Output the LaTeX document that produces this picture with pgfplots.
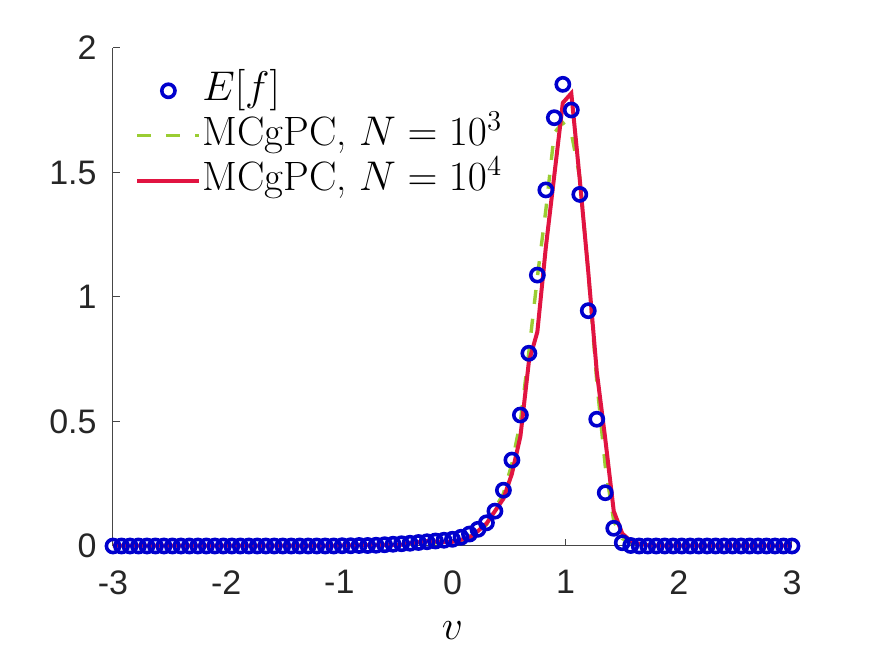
\documentclass[border=0pt]{standalone}
\usepackage{fontspec}
\usepackage{pgfplots}
\pgfplotsset{compat=1.18}
\usepackage{pgfplotstable}

\newfontfamily\tickfont{Liberation Sans}
\definecolor{efblue}{RGB}{0,0,205}
\definecolor{mcthree}{RGB}{154,205,50}
\definecolor{mcfour}{RGB}{225,20,65}
\definecolor{axisgray}{RGB}{70,70,70}

% velocity grid v_k = -3 + 0.075 k, k = 0..80
\pgfplotstableread{
x      Ef     N3     N4
-3.000 0      0.001  0.001
-2.925 0      0.001  0.001
-2.850 0      0.001  0.001
-2.775 0      0.001  0.001
-2.700 0      0.001  0.001
-2.625 0      0.001  0.001
-2.550 0      0.001  0.001
-2.475 0      0.001  0.001
-2.400 0      0.001  0.001
-2.325 0      0.001  0.001
-2.250 0      0.001  0.001
-2.175 0      0.001  0.001
-2.100 0      0.001  0.001
-2.025 0      0.001  0.001
-1.950 0      0.001  0.001
-1.875 0      0.001  0.001
-1.800 0      0.001  0.001
-1.725 0      0.001  0.001
-1.650 0      0.001  0.001
-1.575 0      0.001  0.001
-1.500 0      0.001  0.001
-1.425 0      0.001  0.001
-1.350 0      0.001  0.001
-1.275 0      0.001  0.001
-1.200 0      0.001  0.001
-1.125 0      0.001  0.001
-1.050 0      0.001  0.001
-0.975 0.001  0.001  0.002
-0.900 0.001  0.002  0.002
-0.825 0.002  0.002  0.003
-0.750 0.002  0.003  0.003
-0.675 0.003  0.004  0.004
-0.600 0.005  0.004  0.005
-0.525 0.007  0.006  0.004
-0.450 0.009  0.006  0.005
-0.375 0.011  0.008  0.012
-0.300 0.014  0.006  0.015
-0.225 0.017  0.026  0.020
-0.150 0.020  0.012  0.018
-0.075 0.023  0.014  0.016
 0.000 0.027  0.027  0.017
 0.075 0.035  0.022  0.025
 0.150 0.048  0.040  0.033
 0.225 0.067  0.056  0.060
 0.300 0.093  0.085  0.090
 0.375 0.140  0.150  0.140
 0.450 0.224  0.210  0.190
 0.525 0.345  0.330  0.290
 0.600 0.526  0.500  0.440
 0.675 0.774  0.780  0.740
 0.750 1.088  1.080  0.860
 0.825 1.430  1.350  1.200
 0.900 1.720  1.660  1.490
 0.975 1.854  1.700  1.780
 1.050 1.751  1.660  1.818
 1.125 1.412  1.480  1.470
 1.200 0.945  1.100  1.100
 1.275 0.509  0.660  0.700
 1.350 0.214  0.320  0.430
 1.425 0.071  0.100  0.140
 1.500 0.013  0.030  0.050
 1.575 0.002  0.010  0.020
 1.650 0      0.004  0.008
 1.725 0      0.002  0.003
 1.800 0      0.001  0.002
 1.875 0      0.001  0.001
 1.950 0      0.001  0.001
 2.025 0      0.001  0.001
 2.100 0      0.001  0.001
 2.175 0      0.001  0.001
 2.250 0      0.001  0.001
 2.325 0      0.001  0.001
 2.400 0      0.001  0.001
 2.475 0      0.001  0.001
 2.550 0      0.001  0.001
 2.625 0      0.001  0.001
 2.700 0      0.001  0.001
 2.775 0      0.001  0.001
 2.850 0      0.001  0.001
 2.925 0      0.001  0.001
 3.000 0      0.001  0.001
}\profiles

\begin{document}
\begin{tikzpicture}
\useasboundingbox (-56.5pt,-55.5pt) rectangle (381pt,273pt);
\begin{axis}[
  at={(0pt,0pt)}, anchor=south west, scale only axis,
  width=339.5pt, height=249pt,
  xmin=-3, xmax=3, ymin=0, ymax=2,
  axis lines=left,
  axis line style={-, draw=axisgray, line width=0.5pt},
  tick align=inside, major tick length=3.5pt,
  tick style={axisgray, line width=0.5pt},
  xtick={-3,-2,-1,0,1,2,3}, xticklabels={-3,-2,-1,0,1,2,3},
  ytick={0,0.5,1,1.5,2}, yticklabels={0,0.5,1,1.5,2},
  ticklabel style={font=\tickfont\fontsize{17}{20}\selectfont, text=black!85},
  xticklabel style={anchor=north, inner sep=0pt, yshift=-12pt},
  yticklabel style={anchor=east, inner sep=0pt, xshift=-8pt},
  xlabel={$v$},
  xlabel style={at={(axis description cs:0.5,0)}, anchor=base, yshift=-47pt,
                font=\fontsize{21}{25}\selectfont},
  clip=false,
  legend cell align=left,
  legend image code/.code={\draw[mark repeat=2,mark phase=2,#1]
      plot coordinates {(0pt,0pt) (15.5pt,0pt) (31pt,0pt)};},
  legend style={draw=none, fill=none, at={(0.0324,0.955)}, anchor=north west,
      inner sep=0pt, font=\fontsize{20.5}{24}\selectfont,
      row sep=2.5pt, column sep=0.5pt,
      nodes={inner sep=0pt, text height=15pt, text depth=5pt}},
]
\addplot[efblue, only marks, mark=o, mark size=3.3pt,
         mark options={line width=1.8pt}] table[x=x, y=Ef] {\profiles};
\addplot[mcthree, line width=1.7pt, dash pattern=on 7pt off 7.5pt]
         table[x=x, y=N3] {\profiles};
\addplot[mcfour, line width=2pt] table[x=x, y=N4] {\profiles};
\legend{$E[f]$, {MCgPC, $N=10^3$}, {MCgPC, $N=10^4$}}
\end{axis}
\end{tikzpicture}
\end{document}
